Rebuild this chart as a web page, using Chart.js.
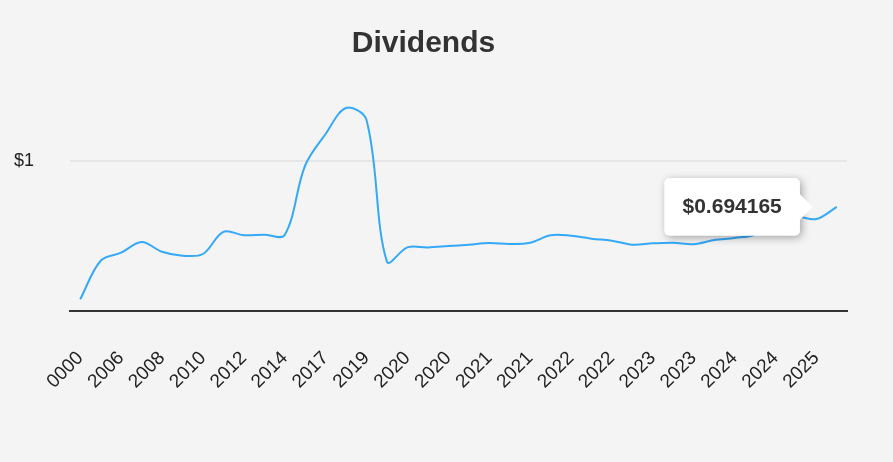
<!DOCTYPE html>
<html>
<head>
<meta charset="utf-8">
<script src="https://cdn.jsdelivr.net/npm/chart.js@4"></script>
<style>
  html, body { margin: 0; padding: 0; background: #f4f4f4; }
  #wrap { width: 893px; height: 462px; position: relative; }
</style>
</head>
<body>
<div id="wrap"><canvas id="divChart"></canvas></div>
<script>
// Dividend history (USD per share), one entry per category on the x axis
const periods = [
  "0000", "2005", "2006", "2007", "2008", "2009", "2010", "2011", "2012", "2013",
  "2014", "2015", "2017", "2018", "2019", "2019", "2020", "2020", "2020", "2020",
  "2021", "2021", "2021", "2022", "2022", "2022", "2022", "2023", "2023", "2023",
  "2023", "2024", "2024", "2024", "2024", "2025", "2025", "2025"
];
const dividends = [
  0.078, 0.335, 0.389, 0.46, 0.395, 0.369, 0.38, 0.527, 0.505, 0.509,
  0.507, 0.97, 1.18, 1.353, 1.273, 0.329, 0.424, 0.424, 0.433, 0.442,
  0.453, 0.447, 0.455, 0.505, 0.502, 0.482, 0.469, 0.442, 0.451, 0.455,
  0.445, 0.473, 0.487, 0.51, 0.6, 0.63, 0.613, 0.694165
];
const yTicks = [1];

const FONT = "'Liberation Sans', Arial, sans-serif";

// soft drop shadow behind the tooltip box
const tooltipShadow = {
  id: "tooltipShadow",
  beforeTooltipDraw(chart, args) {
    const t = args.tooltip;
    const ctx = chart.ctx;
    ctx.save();
    ctx.shadowColor = "rgba(0,0,0,0.35)";
    ctx.shadowBlur = 8;
    ctx.shadowOffsetX = 2;
    ctx.shadowOffsetY = 2;
    ctx.fillStyle = "#fff";
    ctx.beginPath();
    ctx.roundRect(t.x, t.y, t.width, t.height, 5);
    ctx.fill();
    ctx.restore();
  }
};

const chart = new Chart(document.getElementById("divChart"), {
  type: "line",
  data: {
    labels: periods,
    datasets: [{
      data: dividends,
      borderColor: "#35a9f7",
      borderWidth: 2,
      tension: 0.35,
      pointRadius: 0,
      pointHoverRadius: 0,
      fill: false
    }]
  },
  options: {
    responsive: true,
    maintainAspectRatio: false,
    animation: false,
    events: [],
    layout: { padding: { top: 0, right: 46, bottom: 0, left: 0 } },
    plugins: {
      legend: { display: false },
      title: {
        display: true,
        text: "Dividends",
        color: "#333",
        font: { family: FONT, size: 30, weight: "bold" },
        padding: { top: 26, bottom: 24 }
      },
      tooltip: {
        enabled: true,
        backgroundColor: "#fff",
        bodyColor: "#333",
        bodyFont: { family: FONT, size: 21, weight: "bold" },
        displayColors: false,
        padding: { left: 18, right: 18, top: 16, bottom: 16 },
        cornerRadius: 5,
        caretSize: 13,
        caretPadding: 24,
        xAlign: "right",
        yAlign: "center",
        callbacks: {
          title: () => "",
          label: ctx => "$" + ctx.parsed.y
        }
      }
    },
    scales: {
      x: {
        offset: true,
        grid: { display: false, drawTicks: false },
        border: { display: true, color: "#333", width: 2 },
        afterFit: s => { s.height = 151; },
        ticks: {
          autoSkip: false,
          minRotation: 45,
          maxRotation: 45,
          padding: 36,
          color: "#222",
          font: { family: FONT, size: 19 },
          callback: (v, i) => i % 2 === 0 ? periods[i] : ""
        }
      },
      y: {
        min: 0,
        max: 1.5,
        afterBuildTicks: axis => { axis.ticks = yTicks.map(v => ({ value: v })); },
        afterFit: s => { s.width = 70; },
        grid: { color: "#e6e6e6", lineWidth: 2, drawTicks: false },
        border: { display: false },
        ticks: {
          padding: 36,
          color: "#222",
          font: { family: FONT, size: 18 },
          callback: v => "$" + v
        }
      }
    }
  },
  plugins: [tooltipShadow]
});

chart.tooltip.setActiveElements([{ datasetIndex: 0, index: dividends.length - 1 }], { x: 0, y: 0 });
chart.update();
</script>
</body>
</html>
